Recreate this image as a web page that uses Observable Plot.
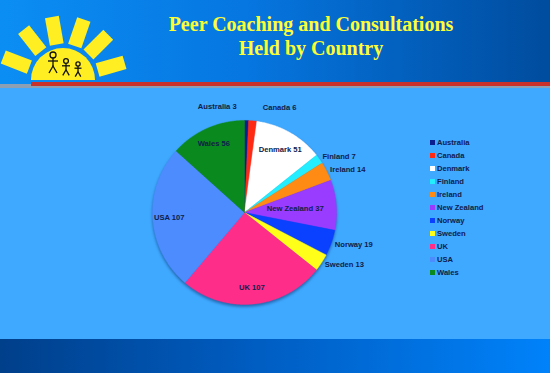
<!DOCTYPE html>
<html><head><meta charset="utf-8">
<script src="https://cdn.jsdelivr.net/npm/d3@7"></script>
<script src="https://cdn.jsdelivr.net/npm/@observablehq/plot@0.6"></script>
<style>
html,body{margin:0;padding:0}
body{width:550px;height:373px;overflow:hidden;position:relative;background:#3fa9ff;font-family:"Liberation Sans",Arial,sans-serif}
#header{position:absolute;left:0;top:0;width:550px;height:86px;background:linear-gradient(to right,#0b8ef4 0%,#0676e0 45%,#004c9e 100%)}
#gray{position:absolute;left:0;top:84px;width:550px;height:4px;background:#8d9fb3}
#red{position:absolute;left:31px;top:82px;width:519px;height:4px;background:#c9302a}
#footer{position:absolute;left:0;top:339px;width:550px;height:34px;background:linear-gradient(to right,#003f8a 0%,#005cc0 45%,#0082fa 100%)}
#title{position:absolute;left:111px;width:400px;top:12px;text-align:center;font-family:"Liberation Serif","Times New Roman",serif;font-weight:bold;font-size:20px;line-height:24px;color:#ffff33}
#logo{position:absolute;left:0;top:0}
#chart{position:absolute;left:0;top:88px}
#legend{position:absolute;left:430px;top:136px;font-weight:bold;font-size:7.6px;color:#10204a;line-height:13.05px}
#legend .it{display:flex;align-items:center;height:13.05px}
#legend .sw{width:5px;height:5px;margin-right:2px}
</style></head>
<body>
<div id="header"></div>
<div id="gray"></div>
<div id="red"></div>
<div id="footer"></div>
<svg id="logo" width="130" height="84"></svg>
<div id="title">Peer Coaching and Consultations<br>Held by Country</div>
<div id="chart"></div>
<div id="legend"></div>
<script>
const countries = ["Australia","Canada","Denmark","Finland","Ireland","New Zealand","Norway","Sweden","UK","USA","Wales"];
const counts = [3,6,51,7,14,37,19,13,107,107,56];
const colors = ["#0c1f8f","#ff2a14","#ffffff","#22eeff","#ff8a14","#9a3cff","#0a40ff","#ffff1a","#ff2d8a","#4c8cff","#0a8a1e"];

// logo (decoration)
(function(){
  const s = d3.select("#logo");
  const lx = 63, ly = 80;
  [201,232,260,289,315,344].forEach(a=>{
    s.append("rect").attr("x",36).attr("y",-7).attr("width",28).attr("height",14)
      .attr("fill","#ffee22").attr("transform",`translate(${lx},${ly}) rotate(${a})`);
  });
  s.append("path").attr("d",d3.arc()({innerRadius:0,outerRadius:32,startAngle:-Math.PI/2,endAngle:Math.PI/2}))
    .attr("transform",`translate(${lx},${ly})`).attr("fill","#ffee22");
  const g = s.append("g").attr("stroke","#111").attr("fill","none").attr("stroke-width",1.3);
  [[53,55,1],[66,61,0.8],[78,64,0.7]].forEach(([x,y,k])=>{
    g.append("circle").attr("cx",x).attr("cy",y).attr("r",3*k);
    g.append("line").attr("x1",x).attr("y1",y+3*k).attr("x2",x).attr("y2",y+11*k);
    g.append("line").attr("x1",x-5*k).attr("y1",y+6*k).attr("x2",x+5*k).attr("y2",y+6*k);
    g.append("path").attr("d",`M${x-4*k},${y+18*k} L${x},${y+11*k} L${x+4*k},${y+18*k}`);
  });
})();

const rows = countries.map((name,i)=>({name,count:counts[i]}));
const arcs = d3.pie().sort(null).value(d=>d.count)(rows);
const pts = [];
arcs.forEach(a=>{
  pts.push({name:a.data.name,x:0,y:0});
  const n = Math.max(2, Math.ceil((a.endAngle-a.startAngle)/0.01));
  for(let k=0;k<=n;k++){
    const t = a.startAngle + (a.endAngle-a.startAngle)*k/n;
    pts.push({name:a.data.name,x:Math.sin(t),y:Math.cos(t)});
  }
  pts.push({name:a.data.name,x:0,y:0});
});
const labels = arcs.map(a=>{
  const m = (a.startAngle+a.endAngle)/2, s = Math.sin(m), c = Math.cos(m);
  const inside = a.data.count >= 30;
  let r, x, y, anchor, dx=0, dy=0;
  if(inside){
    r = 0.82 - 0.27*Math.pow(Math.max(0,s),3);
    x = r*s; y = r*c; anchor = "middle";
  } else {
    r = 1.04; x = r*s; y = r*c;
    const top = Math.pow(Math.max(0,c),8);
    anchor = x < 0.05 ? "end" : "start";
    dx = (anchor==="end" ? -10 : 10)*top;
    dy = -10*top;
  }
  return {text:`${a.data.name} ${a.data.count}`,x,y,anchor,dx,dy,inside};
});

const cx = 244, cy = 124, R = 92;
const tstyle = {fontWeight:"bold",fontSize:7.6,fill:"#10204a",fontFamily:"Liberation Sans, Arial, sans-serif"};
const plot = Plot.plot({
  width:550,height:252,margin:0,
  x:{domain:[-1,1],range:[cx-R,cx+R],axis:null},
  y:{domain:[-1,1],range:[cy+R,cy-R],axis:null},
  color:{domain:countries,range:colors},
  style:{background:"transparent",overflow:"visible"},
  marks:[
    Plot.line(pts,{x:"x",y:"y",z:"name",fill:"name",stroke:"name",strokeWidth:0.4,curve:"linear"}),
    ...["middle","start","end"].map(an=>
      Plot.text(labels.filter(d=>d.anchor===an),{x:"x",y:"y",text:"text",textAnchor:an,...tstyle}))
  ]
});
document.getElementById("chart").appendChild(plot);
// apply per-label offsets computed above
d3.select(plot).selectAll("g[aria-label=text] text").each(function(){
  const t = this.textContent; const L = labels.find(l=>l.text===t);
  if(L && (L.dx||L.dy)){
    const tr = this.getAttribute("transform")||"";
    this.setAttribute("transform", tr + ` translate(${L.dx},${L.dy})`);
  }
});
const lineG = plot.querySelector("g[aria-label=line]");
if(lineG) lineG.style.filter = "drop-shadow(0px 2px 1.5px rgba(0,20,70,0.45))";

const leg = d3.select("#legend");
countries.forEach((c,i)=>{
  const it = leg.append("div").attr("class","it");
  it.append("div").attr("class","sw").style("background",colors[i]);
  it.append("span").text(c);
});
</script>
</body></html>
